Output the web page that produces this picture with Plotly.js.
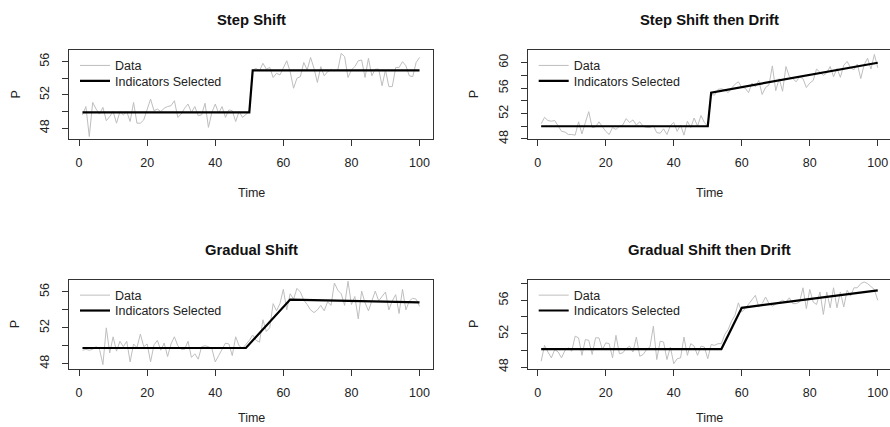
<!DOCTYPE html>
<html>
<head>
<meta charset="utf-8">
<script src="https://cdn.plot.ly/plotly-3.0.1.min.js"></script>
<style>html,body{margin:0;padding:0;background:#fff;}#chart{width:890px;height:427px;}</style>
</head>
<body>
<div id="chart"></div>
<script>
// ---------- DATA ----------
const time = [1,2,3,4,5,6,7,8,9,10,11,12,13,14,15,16,17,18,19,20,21,22,23,24,25,26,27,28,29,30,31,32,33,34,35,36,37,38,39,40,41,42,43,44,45,46,47,48,49,50,51,52,53,54,55,56,57,58,59,60,61,62,63,64,65,66,67,68,69,70,71,72,73,74,75,76,77,78,79,80,81,82,83,84,85,86,87,88,89,90,91,92,93,94,95,96,97,98,99,100];

const panelTitles = ["Step Shift", "Step Shift then Drift", "Gradual Shift", "Gradual Shift then Drift"];
const legendLabels = ["Data", "Indicators Selected"];
const xTickVals = [0, 20, 40, 60, 80, 100];

// Step Shift
const stepData = [49.6,50.6,47.0,51.1,50.3,49.7,50.5,48.9,49.4,50.0,48.6,50.0,49.6,50.0,48.8,51.1,48.6,48.6,49.0,50.3,51.5,50.1,50.3,50.0,50.4,50.6,50.7,51.3,49.3,49.7,50.4,50.9,49.9,50.6,49.5,49.6,51.0,48.1,49.9,50.9,49.8,50.6,49.3,50.2,50.1,48.8,50.0,49.3,49.6,50.0,55.0,55.2,54.9,55.8,55.1,55.3,54.1,54.6,54.4,55.3,56.1,54.8,52.8,54.0,54.2,55.9,55.0,56.5,55.2,53.5,55.4,54.3,54.8,55.0,54.9,55.0,57.0,56.6,54.1,55.0,55.4,56.1,56.2,54.1,56.4,54.3,55.1,55.1,53.1,55.0,53.0,53.0,55.3,55.3,56.0,55.5,54.3,54.2,55.9,56.5];
const stepIndT = [1, 50, 51, 100];
const stepIndY = [49.9, 49.9, 54.95, 54.95];

// Step Shift then Drift
const stepDriftData = [50.4,51.4,50.9,50.8,50.9,50.0,49.2,49.1,48.7,48.7,48.6,50.7,48.8,50.6,52.3,49.8,49.9,50.7,50.0,49.2,48.7,49.8,49.5,50.0,50.2,51.2,50.6,51.0,50.2,50.7,50.0,49.8,49.8,50.1,49.0,48.9,49.6,48.7,50.1,50.6,49.2,50.2,48.6,50.8,49.8,51.3,50.0,51.7,50.6,50.0,55.0,54.9,55.8,55.9,55.7,55.3,56.0,56.6,57.0,56.1,56.0,55.3,56.8,56.2,57.2,55.0,56.1,56.5,59.5,55.6,57.5,55.5,59.4,57.8,57.5,57.0,57.8,57.5,56.1,56.8,57.2,59.0,58.5,58.0,58.4,59.4,57.8,59.1,57.7,59.6,60.2,59.2,58.9,59.8,57.5,59.7,60.7,59.0,61.3,59.2];
const stepDriftIndT = [1, 50, 51, 100];
const stepDriftIndY = [50.0, 50.0, 55.3, 60.0];

// Gradual Shift
const gradData = [49.5,49.6,49.5,49.6,49.9,49.6,47.9,52.0,49.2,51.0,49.4,50.5,49.9,50.5,48.2,50.2,49.8,51.3,49.9,50.2,48.2,50.1,50.6,49.5,50.3,48.8,50.2,51.0,50.0,49.6,49.6,50.5,48.7,49.1,48.5,49.9,50.0,49.9,49.7,48.2,48.9,49.6,50.3,50.2,48.9,51.0,50.0,49.7,50.1,50.6,51.2,50.6,50.4,52.9,51.6,52.0,54.7,53.9,54.7,56.3,54.0,55.8,55.2,56.4,56.0,55.1,54.6,54.0,53.7,54.0,54.5,53.9,54.9,54.5,57.0,56.2,55.8,54.5,57.2,54.6,55.5,53.0,56.1,54.8,53.9,54.9,56.1,55.0,55.5,56.0,54.0,55.0,55.7,53.6,56.3,54.0,55.0,55.3,55.2,54.4];
const gradIndT = [1, 49, 62, 100];
const gradIndY = [49.75, 49.75, 55.15, 54.85];

// Gradual Shift then Drift
const gradDriftData = [48.7,50.6,49.8,49.1,50.1,49.8,49.1,50.0,50.3,49.9,51.7,51.5,49.4,51.3,51.2,49.5,51.5,51.5,50.1,50.9,50.8,49.1,51.8,49.6,49.7,50.2,50.5,49.8,51.6,49.3,49.5,50.1,50.4,52.9,48.9,51.1,51.0,48.9,50.4,48.4,49.0,49.1,51.6,49.4,50.8,50.5,49.4,50.5,50.4,49.0,50.7,50.6,50.8,50.8,51.9,52.5,53.5,54.2,55.7,54.6,55.0,55.5,56.1,56.6,55.2,55.6,56.4,55.6,55.3,55.5,55.8,56.0,55.8,56.3,55.6,55.6,55.8,57.5,55.0,57.3,55.8,55.5,57.0,54.3,57.0,55.1,57.5,55.1,57.0,55.2,57.2,56.5,57.5,57.5,58.0,58.2,58.0,57.7,57.3,56.0];
const gradDriftIndT = [1, 54, 60, 100];
const gradDriftIndY = [50.15, 50.15, 55.1, 57.2];

const yTickVals = [[48,50,52,54,56],[48,50,52,54,56,58,60],[48,50,52,54,56],[48,50,52,54,56,58]];
const yTickText = [["48","","52","","56"],["48","","52","","56","","60"],["48","","52","","56"],["48","","52","","56",""]];

// ---------- STYLE / LAYOUT ----------
const W = 890, H = 427;
const FONT = "Liberation Sans, Arial, Helvetica, sans-serif";
const panels = [
  {data: stepData, indT: stepIndT, indY: stepIndY, box: [69, 433, 50, 139], xr: [-2.96, 103.96], yr: [46.7, 57.4]},
  {data: stepDriftData, indT: stepDriftIndT, indY: stepDriftIndY, box: [527.7, 890, 50, 139.3], xr: [-2.96, 103.6], yr: [47.95, 62.0]},
  {data: gradData, indT: gradIndT, indY: gradIndY, box: [69, 433, 279.7, 368.7], xr: [-2.96, 103.96], yr: [47.44, 57.37]},
  {data: gradDriftData, indT: gradDriftIndT, indY: gradDriftIndY, box: [527.7, 890, 279.7, 368.7], xr: [-2.96, 103.6], yr: [47.8, 58.47]}
];

const traces = [];
const layout = {
  width: W, height: H,
  margin: {l: 0, r: 0, t: 0, b: 0},
  paper_bgcolor: "#fff", plot_bgcolor: "#fff",
  font: {family: FONT, size: 12.5, color: "#222"},
  showlegend: true,
  annotations: []
};

function legendName(n) { return n === 1 ? "legend" : "legend" + n; }

panels.forEach((p, i) => {
  const k = i === 0 ? "" : String(i + 1);
  const lgA = legendName(2 * i + 1), lgB = legendName(2 * i + 2);
  traces.push({
    x: time, y: p.data, type: "scatter", mode: "lines",
    name: legendLabels[0], xaxis: "x" + k, yaxis: "y" + k, legend: lgA,
    line: {color: "#bebebe", width: 1}
  });
  traces.push({
    x: p.indT, y: p.indY, type: "scatter", mode: "lines",
    name: legendLabels[1], xaxis: "x" + k, yaxis: "y" + k, legend: lgB,
    line: {color: "#000", width: 2.2}
  });
  const [x0, x1, y0, y1] = p.box;
  layout["xaxis" + k] = {
    domain: [x0 / W, x1 / W], anchor: "y" + k, range: p.xr,
    showline: true, mirror: true, linecolor: "#333", linewidth: 1,
    ticks: "outside", ticklen: 6, tickwidth: 1, tickcolor: "#333",
    tickvals: xTickVals, showgrid: false, zeroline: false,
    tickfont: {family: FONT, size: 12.5, color: "#222"},
    ticklabelstandoff: 6
  };
  layout["yaxis" + k] = {
    domain: [1 - y1 / H, 1 - y0 / H], anchor: "x" + k, range: p.yr,
    showline: true, mirror: true, linecolor: "#333", linewidth: 1,
    ticks: "outside", ticklen: 6, tickwidth: 1, tickcolor: "#333",
    tickvals: yTickVals[i], ticktext: yTickText[i], tickangle: -90,
    showgrid: false, zeroline: false,
    tickfont: {family: FONT, size: 12.5, color: "#222"},
    ticklabelstandoff: 8
  };
  const cx = i % 2 === 1 ? 709.3 : (x0 + x1) / 2;
  layout.annotations.push({
    text: "<b>" + panelTitles[i] + "</b>", xref: "paper", yref: "paper",
    x: cx / W, y: 1 - (y0 - 30) / H, xanchor: "center", yanchor: "middle",
    showarrow: false, font: {family: FONT, size: 14.8, color: "#111"}
  });
  const timeAnn = {
    text: "Time", xref: "paper", yref: "paper",
    x: cx / W, xanchor: "center",
    showarrow: false, font: {family: FONT, size: 12.5, color: "#222"}
  };
  if (i < 2) { timeAnn.y = 1 - (y1 + 54) / H; timeAnn.yanchor = "middle"; }
  else { timeAnn.y = 0; timeAnn.yanchor = "bottom"; }
  layout.annotations.push(timeAnn);
  layout.annotations.push({
    text: "P", xref: "paper", yref: "paper", textangle: -90,
    x: (x0 - 54) / W, y: 1 - ((y0 + y1) / 2) / H, xanchor: "center", yanchor: "middle",
    showarrow: false, font: {family: FONT, size: 12.5, color: "#222"}
  });
  const lgBase = {
    x: (x0 + 6) / W, xanchor: "left", yanchor: "top",
    bgcolor: "rgba(0,0,0,0)", borderwidth: 0,
    font: {family: FONT, size: 12.5, color: "#222"}
  };
  layout[lgA] = Object.assign({}, lgBase, {y: 1 - (y0 + 0.8) / H});
  layout[lgB] = Object.assign({}, lgBase, {y: 1 - (y0 + 16.2) / H});
});

Plotly.newPlot("chart", traces, layout, {staticPlot: true, displayModeBar: false});
</script>
</body>
</html>
